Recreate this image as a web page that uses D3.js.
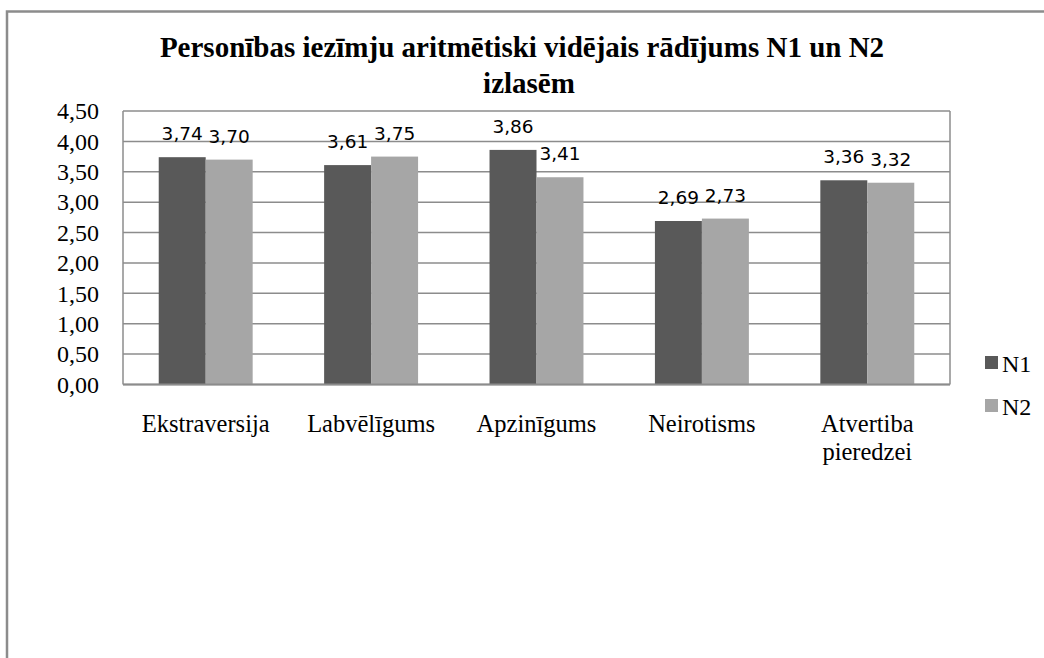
<!DOCTYPE html>
<html>
<head>
<meta charset="utf-8">
<script src="https://cdn.jsdelivr.net/npm/d3@7"></script>
<style>
  html, body { margin: 0; padding: 0; background: #fff; }
  svg { display: block; }
</style>
</head>
<body>
<svg id="chart" width="1044" height="658"></svg>
<script>
const categories = ["Ekstraversija", "Labvēlīgums", "Apzinīgums", "Neirotisms", "Atvertiba pieredzei"];
const categoryLines = [["Ekstraversija"], ["Labvēlīgums"], ["Apzinīgums"], ["Neirotisms"], ["Atvertiba", "pieredzei"]];
const seriesNames = ["N1", "N2"];
const n1Values = [3.74, 3.61, 3.86, 2.69, 3.36];
const n2Values = [3.70, 3.75, 3.41, 2.73, 3.32];
const yTicks = [0, 0.5, 1, 1.5, 2, 2.5, 3, 3.5, 4, 4.5];
const titleLines = ["Personības iezīmju aritmētiski vidējais rādījums N1 un N2", "izlasēm"];

const colors = { N1: "#595959", N2: "#a6a6a6" };
const svg = d3.select("#chart");
const serif = "'Liberation Serif', 'Times New Roman', serif";
const sans = "'DejaVu Sans', Verdana, sans-serif";

const plot = { left: 123, right: 950, top: 111, bottom: 384.5 };

// outer frame
svg.append("rect")
  .attr("x", 7).attr("y", 11.5)
  .attr("width", 1100).attr("height", 700)
  .attr("fill", "none").attr("stroke", "#8c8c8c").attr("stroke-width", 2.5);

// title
const titleX = [522, 529];
const title = svg.append("text")
  .attr("text-anchor", "middle")
  .attr("font-family", serif).attr("font-weight", "bold").attr("font-size", 29)
  .attr("fill", "#000");
titleLines.forEach((t, i) => {
  title.append("tspan").attr("x", titleX[i]).attr("y", 57 + i * 36).text(t);
});

const x = d3.scaleBand().domain(categories).range([plot.left, plot.right]).padding(0);
const y = d3.scaleLinear().domain([0, 4.5]).range([plot.bottom, plot.top]);

// gridlines
svg.append("g").selectAll("line").data(yTicks).join("line")
  .attr("x1", plot.left).attr("x2", plot.right)
  .attr("y1", d => y(d)).attr("y2", d => y(d))
  .attr("stroke", "#8c8c8c").attr("stroke-width", 1.5);

// plot frame left/right
svg.append("line").attr("x1", plot.left).attr("x2", plot.left)
  .attr("y1", plot.top).attr("y2", plot.bottom)
  .attr("stroke", "#8c8c8c").attr("stroke-width", 1.5);
svg.append("line").attr("x1", plot.right).attr("x2", plot.right)
  .attr("y1", plot.top).attr("y2", plot.bottom)
  .attr("stroke", "#8c8c8c").attr("stroke-width", 1.5);

// y axis labels
const yAxis = d3.axisLeft(y).tickValues(yTicks).tickSize(0).tickPadding(24)
  .tickFormat(d => d3.format(".2f")(d).replace(".", ","));
const yg = svg.append("g").attr("transform", `translate(${plot.left},0)`).call(yAxis);
yg.select(".domain").remove();
yg.selectAll("text").attr("font-family", serif).attr("font-size", 24).attr("fill", "#000");

// bars
const bw = x.bandwidth() * 0.284;
const data = categories.map((c, i) => ({ c, i, vals: [n1Values[i], n2Values[i]] }));
const groups = svg.append("g").selectAll("g").data(data).join("g");
groups.each(function(d) {
  const g = d3.select(this);
  const cx = x(d.c) + x.bandwidth() / 2;
  d.vals.forEach((v, j) => {
    const bx = cx - bw + j * bw;
    g.append("rect")
      .attr("x", bx).attr("y", y(v))
      .attr("width", bw).attr("height", y(0) - y(v))
      .attr("fill", colors[seriesNames[j]]);
    g.append("text")
      .attr("x", bx + bw / 2).attr("y", y(v) - 17)
      .attr("text-anchor", "middle")
      .attr("font-family", sans).attr("font-size", 18.5).attr("fill", "#000")
      .text(d3.format(".2f")(v).replace(".", ","));
  });
});

// bottom axis line redraw on top
svg.append("line").attr("x1", plot.left).attr("x2", plot.right)
  .attr("y1", plot.bottom).attr("y2", plot.bottom)
  .attr("stroke", "#8c8c8c").attr("stroke-width", 2);

// category labels
const xg = svg.append("g");
categories.forEach((c, i) => {
  const t = xg.append("text")
    .attr("text-anchor", "middle")
    .attr("font-family", serif).attr("font-size", 24.5).attr("fill", "#000");
  categoryLines[i].forEach((line, k) => {
    t.append("tspan").attr("x", x(c) + x.bandwidth() / 2).attr("y", 432 + k * 28).text(line);
  });
});

// legend
const legend = svg.append("g");
seriesNames.forEach((s, i) => {
  const ly = 356 + i * 43;
  legend.append("rect").attr("x", 985).attr("y", ly).attr("width", 13).attr("height", 13)
    .attr("fill", colors[s]);
  legend.append("text").attr("x", 1002).attr("y", ly + 16)
    .attr("font-family", serif).attr("font-size", 24).attr("fill", "#000").text(s);
});
</script>
</body>
</html>
